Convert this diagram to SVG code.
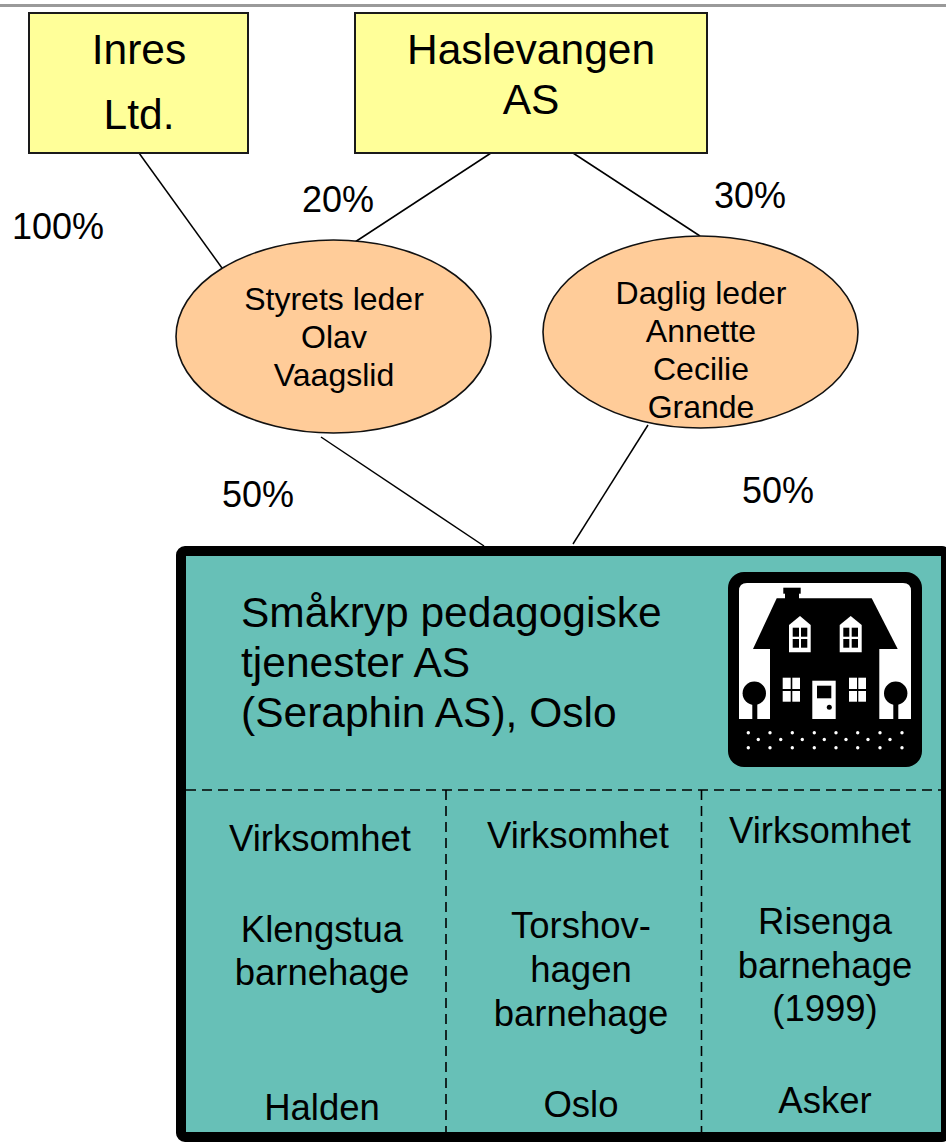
<svg xmlns="http://www.w3.org/2000/svg" width="946" height="1144" viewBox="0 0 946 1144">
<style>
text{font-family:"Liberation Sans",Arial,"Noto Sans",sans-serif;fill:#000;}
.box{fill:#FFFF99;stroke:#1a1a1a;stroke-width:2;}
.ell{fill:#FFCC99;stroke:#111;stroke-width:1.6;}
.conn{stroke:#000;stroke-width:1.5;fill:none;}
.dash{stroke:#000;stroke-width:1.6;stroke-dasharray:10 6;fill:none;}
.t43{font-size:42.5px;text-anchor:middle;}
.t36{font-size:36px;}
.t31{font-size:32px;text-anchor:middle;}
.c36{font-size:36.5px;text-anchor:middle;}
.w{fill:#fff;}
.k{fill:#000;}
</style>
<rect width="946" height="1144" fill="#fff"/>
<line x1="0" y1="5.5" x2="946" y2="5.5" stroke="#9a9a9a" stroke-width="3"/>

<g id="connectors">
<line class="conn" x1="139" y1="153" x2="222" y2="268"/>
<line class="conn" x1="491" y1="153" x2="355" y2="242"/>
<line class="conn" x1="573" y1="153" x2="700" y2="236"/>
<line class="conn" x1="321" y1="437" x2="484" y2="546"/>
<line class="conn" x1="648" y1="425" x2="573" y2="544"/>
</g>

<g id="labels">
<text class="t36" x="12" y="239">100%</text>
<text class="t36" x="302" y="212">20%</text>
<text class="t36" x="714" y="208">30%</text>
<text class="t36" x="222" y="507">50%</text>
<text class="t36" x="742" y="503">50%</text>
</g>

<g id="inres">
<rect class="box" x="29" y="13" width="219" height="140"/>
<text class="t43" x="139" y="64">Inres</text>
<text class="t43" x="139" y="129">Ltd.</text>
</g>

<g id="haslevangen">
<rect class="box" x="355" y="13" width="352" height="140"/>
<text class="t43" x="531" y="64">Haslevangen</text>
<text class="t43" x="531" y="114">AS</text>
</g>

<g id="styrets-leder">
<ellipse class="ell" cx="333.5" cy="336.5" rx="157.5" ry="96.5"/>
<text class="t31" x="334" y="310">Styrets leder</text>
<text class="t31" x="334" y="348">Olav</text>
<text class="t31" x="334" y="386">Vaagslid</text>
</g>

<g id="daglig-leder">
<ellipse class="ell" cx="700.5" cy="332" rx="157.5" ry="96"/>
<text class="t31" x="701" y="304">Daglig leder</text>
<text class="t31" x="701" y="342">Annette</text>
<text class="t31" x="701" y="380">Cecilie</text>
<text class="t31" x="701" y="418">Grande</text>
</g>

<g id="smakryp">
<rect x="181" y="551" width="765" height="586" rx="4" fill="#67C0B7" stroke="#000" stroke-width="10"/>
<text x="241" y="627" font-size="42.5">Småkryp pedagogiske</text>
<text x="241" y="677" font-size="42.5">tjenester AS</text>
<text x="241" y="727" font-size="42.5">(Seraphin AS), Oslo</text>
<line class="dash" x1="186" y1="790" x2="941" y2="790"/>
<line class="dash" x1="446" y1="790" x2="446" y2="1136"/>
<line class="dash" x1="701.5" y1="790" x2="701.5" y2="1136"/>
<g id="house-icon">
<rect x="728" y="572" width="194" height="195" rx="16" class="k"/>
<path d="M739 719 V591 Q739 583 747 583 H903 Q911 583 911 591 V719 Z" class="w"/>
<rect x="783.3" y="587.7" width="17.4" height="6" class="k"/>
<rect x="785" y="593" width="14" height="7" class="k"/>
<polygon points="776.7,598.3 871.7,598.3 897.7,649 753,649" class="k"/>
<rect x="770" y="648" width="109.3" height="72" class="k"/>
<polygon points="800,616 810.7,625 810.7,652.3 789,652.3 789,625" class="w"/>
<rect x="792.7" y="627.7" width="6.3" height="9" class="k"/>
<rect x="801" y="627.7" width="6.3" height="9" class="k"/>
<rect x="792.7" y="639" width="6.3" height="8.7" class="k"/>
<rect x="801" y="639" width="6.3" height="8.7" class="k"/>
<polygon points="850.7,616 861.7,625 861.7,652.3 839.7,652.3 839.7,625" class="w"/>
<rect x="843.3" y="627.7" width="6" height="9" class="k"/>
<rect x="851.7" y="627.7" width="6.3" height="9" class="k"/>
<rect x="843.3" y="639" width="6" height="8.7" class="k"/>
<rect x="851.7" y="639" width="6.3" height="8.7" class="k"/>
<rect x="782.7" y="677.7" width="8" height="11.3" class="w"/>
<rect x="792.3" y="677.7" width="7.7" height="11.3" class="w"/>
<rect x="782.7" y="691" width="8" height="10.7" class="w"/>
<rect x="792.3" y="691" width="7.7" height="10.7" class="w"/>
<rect x="849" y="677.7" width="8" height="11.3" class="w"/>
<rect x="858.3" y="677.7" width="7.7" height="11.3" class="w"/>
<rect x="849" y="691" width="8" height="10.7" class="w"/>
<rect x="858.3" y="691" width="7.7" height="10.7" class="w"/>
<rect x="812.3" y="680.7" width="23.4" height="38.3" class="w"/>
<rect x="817" y="685.7" width="14.3" height="12.6" class="k"/>
<circle cx="829.3" cy="707.3" r="2.5" class="k"/>
<circle cx="754.3" cy="693.3" r="11.7" class="k"/>
<rect x="752.3" y="693" width="5" height="27" class="k"/>
<circle cx="895.7" cy="693.3" r="11.7" class="k"/>
<rect x="893.3" y="693" width="5" height="27" class="k"/>
<g class="w">
<circle cx="748.3" cy="732.7" r="1.7"/><circle cx="770" cy="732.7" r="1.7"/><circle cx="792.3" cy="732.7" r="1.7"/><circle cx="814.3" cy="732.7" r="1.7"/><circle cx="836" cy="732.7" r="1.7"/><circle cx="857.7" cy="732.7" r="1.7"/><circle cx="880" cy="732.7" r="1.7"/><circle cx="902" cy="732.7" r="1.7"/>
<circle cx="758.3" cy="739.5" r="1.7"/><circle cx="780.7" cy="739.5" r="1.7"/><circle cx="802.3" cy="739.5" r="1.7"/><circle cx="824.3" cy="739.5" r="1.7"/><circle cx="846" cy="739.5" r="1.7"/><circle cx="868" cy="739.5" r="1.7"/><circle cx="890" cy="739.5" r="1.7"/>
<circle cx="748.3" cy="747.7" r="1.7"/><circle cx="770" cy="747.7" r="1.7"/><circle cx="792.3" cy="747.7" r="1.7"/><circle cx="814.3" cy="747.7" r="1.7"/><circle cx="836" cy="747.7" r="1.7"/><circle cx="857.7" cy="747.7" r="1.7"/><circle cx="880" cy="747.7" r="1.7"/><circle cx="902" cy="747.7" r="1.7"/>
</g>
</g>
</g>

<g id="klengstua">
<text class="c36" x="320" y="851">Virksomhet</text>
<text class="c36" x="322" y="942">Klengstua</text>
<text class="c36" x="322" y="985">barnehage</text>
<text class="c36" x="322" y="1120">Halden</text>
</g>

<g id="torshovhagen">
<text class="c36" x="578" y="848">Virksomhet</text>
<text class="c36" x="581" y="938">Torshov-</text>
<text class="c36" x="581" y="982">hagen</text>
<text class="c36" x="581" y="1026">barnehage</text>
<text class="c36" x="581" y="1117">Oslo</text>
</g>

<g id="risenga">
<text class="c36" x="820" y="843">Virksomhet</text>
<text class="c36" x="825" y="934">Risenga</text>
<text class="c36" x="825" y="978">barnehage</text>
<text class="c36" x="825" y="1021">(1999)</text>
<text class="c36" x="825" y="1113">Asker</text>
</g>
</svg>
